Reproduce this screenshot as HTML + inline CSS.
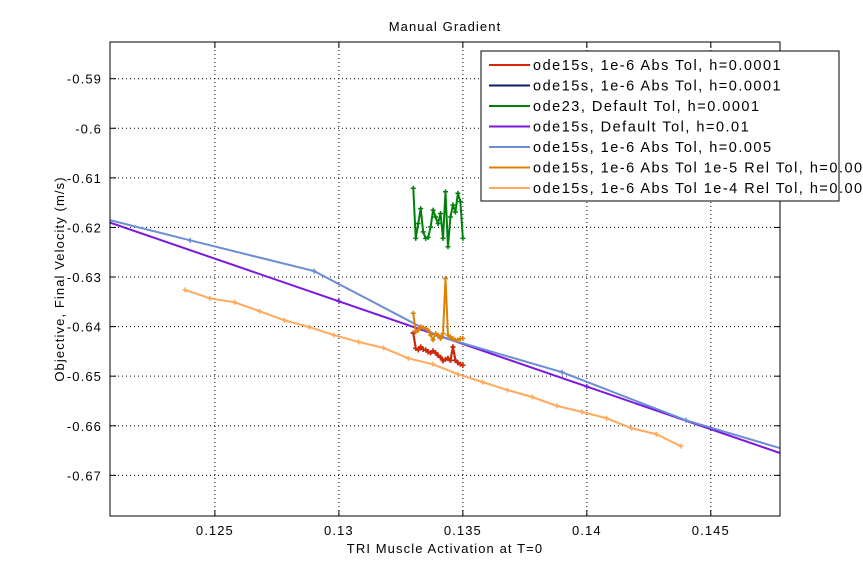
<!DOCTYPE html>
<html><head><meta charset="utf-8"><style>
body{margin:0;background:#fff;}
svg text{font-family:"Liberation Sans",Arial,sans-serif;font-size:13px;fill:#000;letter-spacing:1.1px;}
svg #legend text{font-size:14.5px;letter-spacing:1.5px;}
</style></head><body>
<svg id="chart" width="863" height="580" xmlns="http://www.w3.org/2000/svg">
<defs><clipPath id="clip"><rect x="110" y="42" width="670" height="474"/></clipPath></defs>
<rect x="0" y="0" width="863" height="580" fill="#fff"/>
<text x="445" y="31" text-anchor="middle">Manual Gradient</text>
<text x="445" y="553" text-anchor="middle">TRI Muscle Activation at T=0</text>
<text x="0" y="0" text-anchor="middle" transform="translate(64,279) rotate(-90)">Objective, Final Velocity (m/s)</text>
<g id="grid"></g>
<g id="series" clip-path="url(#clip)"></g>
<rect x="110" y="42" width="670" height="474" fill="none" stroke="#000" stroke-width="1"/>
<g id="ticks"></g>
<g id="legend"></g>
</svg>
<script>
const xTicks=[0.125,0.13,0.135,0.14,0.145];
const xTickLabels=["0.125","0.13","0.135","0.14","0.145"];
const yTicks=[-0.59,-0.6,-0.61,-0.62,-0.63,-0.64,-0.65,-0.66,-0.67];
const yTickLabels=["-0.59","-0.6","-0.61","-0.62","-0.63","-0.64","-0.65","-0.66","-0.67"];
const seriesNames=["ode15s, 1e-6 Abs Tol, h=0.0001","ode15s, 1e-6 Abs Tol, h=0.0001","ode23, Default Tol, h=0.0001","ode15s, Default Tol, h=0.01","ode15s, 1e-6 Abs Tol, h=0.005","ode15s, 1e-6 Abs Tol 1e-5 Rel Tol, h=0.0001","ode15s, 1e-6 Abs Tol 1e-4 Rel Tol, h=0.001"];
const seriesColors=["#d42800","#0c1c66","#00800a","#7a18e0","#6b8dd3","#e08000","#ffa95c"];
const xFine=[0.1330,0.1331,0.1332,0.1333,0.1334,0.1335,0.1336,0.1337,0.1338,0.1339,0.1340,0.1341,0.1342,0.1343,0.1344,0.1345,0.1346,0.1347,0.1348,0.1349,0.1350];
const yRed=[-0.6413,-0.6444,-0.6447,-0.6441,-0.6446,-0.6447,-0.6451,-0.6453,-0.6449,-0.6453,-0.6458,-0.6462,-0.6469,-0.6466,-0.6464,-0.6468,-0.6441,-0.6468,-0.6473,-0.6476,-0.6478];
const yNavy=[-0.6413,-0.6444,-0.6447,-0.6441,-0.6446,-0.6447,-0.6451,-0.6453,-0.6449,-0.6453,-0.6458,-0.6462,-0.6469,-0.6466,-0.6464,-0.6468,-0.6441,-0.6468,-0.6473,-0.6476,-0.6478];
const yGreen=[-0.6121,-0.6222,-0.6192,-0.6162,-0.6209,-0.6222,-0.6220,-0.6199,-0.6165,-0.6179,-0.6192,-0.6172,-0.6222,-0.6128,-0.6239,-0.6179,-0.6155,-0.6169,-0.6131,-0.6148,-0.6222];
const xPurple=[0.12,0.13,0.14,0.15];
const yPurple=[-0.6177,-0.6349,-0.6521,-0.6693];
const xBlue=[0.119,0.124,0.129,0.134,0.139,0.144,0.149];
const yBlue=[-0.6163,-0.6226,-0.6288,-0.6419,-0.6492,-0.6589,-0.6663];
const yOrange=[-0.6373,-0.6411,-0.6407,-0.6400,-0.6402,-0.6404,-0.6407,-0.6417,-0.6427,-0.6414,-0.6417,-0.6424,-0.6414,-0.6303,-0.6417,-0.6421,-0.6424,-0.6427,-0.6427,-0.6424,-0.6424];
const xLight=[0.1238,0.1248,0.1258,0.1268,0.1278,0.1288,0.1298,0.1308,0.1318,0.1328,0.1338,0.1348,0.1358,0.1368,0.1378,0.1388,0.1398,0.1408,0.1418,0.1428,0.1438];
const yLight=[-0.6326,-0.6343,-0.6351,-0.6369,-0.6387,-0.6401,-0.6417,-0.6431,-0.6443,-0.6464,-0.6476,-0.6496,-0.6512,-0.6528,-0.6542,-0.6560,-0.6572,-0.6585,-0.6605,-0.6617,-0.6641];

const X0=110,X1=780,Y0=42,Y1=516;
const xMin=0.12077,xMax=0.14779,yMin=-0.6782,yMax=-0.5826;
const sx=v=>X0+(v-xMin)/(xMax-xMin)*(X1-X0);
const sy=v=>Y1-(v-yMin)/(yMax-yMin)*(Y1-Y0);
const NS="http://www.w3.org/2000/svg";
function mk(tag,attrs,parent){const e=document.createElementNS(NS,tag);for(const k in attrs)e.setAttribute(k,attrs[k]);parent.appendChild(e);return e;}
const grid=document.getElementById('grid'),ticks=document.getElementById('ticks'),ser=document.getElementById('series'),leg=document.getElementById('legend');
xTicks.forEach((t,i)=>{const x=sx(t);
 const g=mk('line',{x1:x,x2:x,y1:Y0,y2:Y1,stroke:'#000','stroke-dasharray':'1,3','stroke-width':1},grid);
 
 const a=mk('line',{x1:x,x2:x,y1:Y1,y2:Y1-6,stroke:'#000'},ticks);
 
 const b=mk('line',{x1:x,x2:x,y1:Y0,y2:Y0+6,stroke:'#000'},ticks);
 
 const tx=mk('text',{x:x,y:Y1+19,'text-anchor':'middle'},ticks);tx.textContent=xTickLabels[i];
 });
yTicks.forEach((t,i)=>{const y=sy(t);
 const g=mk('line',{x1:X0,x2:X1,y1:y,y2:y,stroke:'#000','stroke-dasharray':'1,3','stroke-width':1},grid);
 
 const a=mk('line',{x1:X0,x2:X0+6,y1:y,y2:y,stroke:'#000'},ticks);
 
 const b=mk('line',{x1:X1,x2:X1-6,y1:y,y2:y,stroke:'#000'},ticks);
 
 const tx=mk('text',{x:X0-8,y:y+5,'text-anchor':'end'},ticks);tx.textContent=yTickLabels[i];
 });
function draw(xs,ys,color,name){
 const g=mk('g',{},ser);
 
 
 const p=mk('polyline',{points:xs.map((x,i)=>sx(x)+','+sy(ys[i])).join(' '),fill:'none',stroke:color,'stroke-width':2},g);
 
 xs.forEach((x,i)=>{const cx=sx(x),cy=sy(ys[i]);
  const m=mk('path',{d:`M${cx-2.5},${cy}H${cx+2.5}M${cx},${cy-2.5}V${cy+2.5}`,stroke:color,'stroke-width':1.5},g);
  });
}
draw(xFine,yNavy,seriesColors[1],'series-navy');
draw(xFine,yRed,seriesColors[0],'series-red');
draw(xFine,yGreen,seriesColors[2],'series-green');
draw(xPurple,yPurple,seriesColors[3],'series-purple');
draw(xBlue,yBlue,seriesColors[4],'series-blue');
draw(xFine,yOrange,seriesColors[5],'series-orange');
draw(xLight,yLight,seriesColors[6],'series-light-orange');
const lb=mk('rect',{x:481,y:51,width:358,height:150,fill:'#fff',stroke:'#000'},leg);

seriesNames.forEach((n,i)=>{const y=65+i*20.5;
 const l=mk('line',{x1:489,x2:530,y1:y,y2:y,stroke:seriesColors[i],'stroke-width':2},leg);
 
 const t=mk('text',{x:533,y:y+5},leg);t.textContent=n;
 });
</script>
</body></html>
